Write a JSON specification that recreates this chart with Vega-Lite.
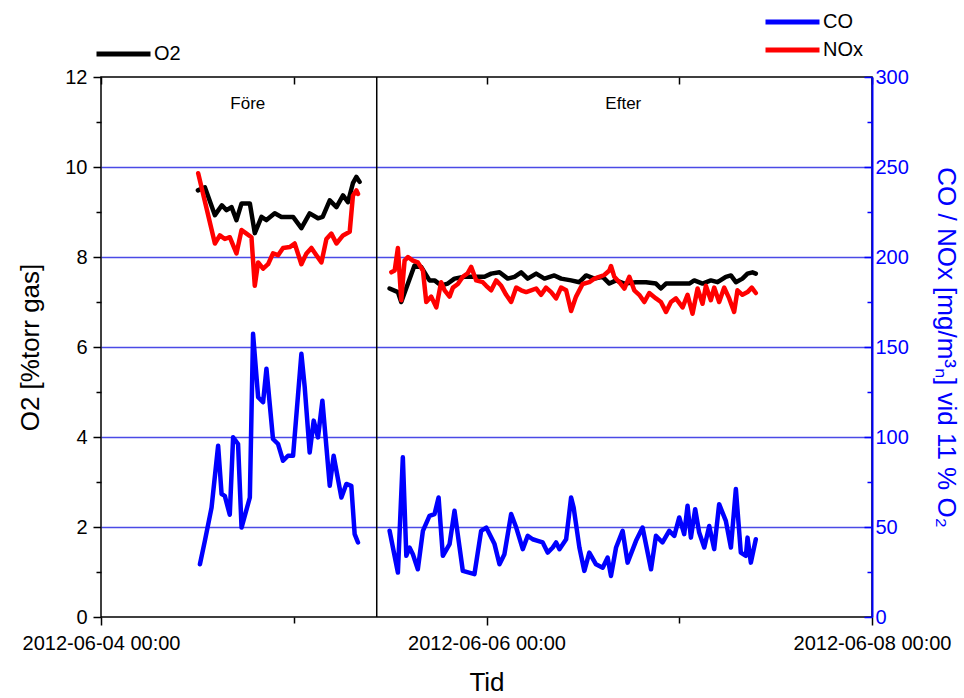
{
  "$schema": "https://vega.github.io/schema/vega-lite/v6.json",
  "width": 771,
  "height": 540,
  "autosize": {"type": "none"},
  "padding": {"left": 101, "top": 77, "right": 92, "bottom": 81},
  "background": "white",
  "config": {
    "font": "Liberation Sans",
    "view": {"stroke": "black", "strokeWidth": 1.5},
    "axis": {
      "labelFont": "Liberation Sans", "titleFont": "Liberation Sans", "titleFontWeight": "normal",
      "grid": false, "labelFontSize": 20, "titleFontSize": 26,
      "domainColor": "black", "tickColor": "black", "labelColor": "black", "titleColor": "black",
      "domainWidth": 1.5, "tickWidth": 1.5
    },
    "legend": {
      "orient": "none", "labelFontSize": 20, "labelFont": "Liberation Sans", "labelColor": "black",
      "symbolStrokeWidth": 5, "symbolType": "M-1.8,0H1.8", "symbolSize": 900,
      "labelOffset": 13, "rowPadding": 0, "padding": 0, "title": null
    }
  },
  "datasets": {
    "o2": [
      {"t":"2012-06-04T12:04","v":9.48,"s":"O2","g":"a"},
      {"t":"2012-06-04T12:56","v":9.55,"s":"O2","g":"a"},
      {"t":"2012-06-04T14:11","v":8.93,"s":"O2","g":"a"},
      {"t":"2012-06-04T15:03","v":9.15,"s":"O2","g":"a"},
      {"t":"2012-06-04T15:38","v":9.04,"s":"O2","g":"a"},
      {"t":"2012-06-04T16:15","v":9.11,"s":"O2","g":"a"},
      {"t":"2012-06-04T16:52","v":8.82,"s":"O2","g":"a"},
      {"t":"2012-06-04T17:30","v":9.19,"s":"O2","g":"a"},
      {"t":"2012-06-04T18:32","v":9.19,"s":"O2","g":"a"},
      {"t":"2012-06-04T19:09","v":8.53,"s":"O2","g":"a"},
      {"t":"2012-06-04T19:59","v":8.89,"s":"O2","g":"a"},
      {"t":"2012-06-04T20:36","v":8.82,"s":"O2","g":"a"},
      {"t":"2012-06-04T21:38","v":8.97,"s":"O2","g":"a"},
      {"t":"2012-06-04T22:28","v":8.89,"s":"O2","g":"a"},
      {"t":"2012-06-04T23:55","v":8.89,"s":"O2","g":"a"},
      {"t":"2012-06-05T00:57","v":8.64,"s":"O2","g":"a"},
      {"t":"2012-06-05T01:59","v":8.97,"s":"O2","g":"a"},
      {"t":"2012-06-05T03:01","v":8.86,"s":"O2","g":"a"},
      {"t":"2012-06-05T03:36","v":8.89,"s":"O2","g":"a"},
      {"t":"2012-06-05T04:29","v":9.26,"s":"O2","g":"a"},
      {"t":"2012-06-05T05:19","v":9.11,"s":"O2","g":"a"},
      {"t":"2012-06-05T06:08","v":9.37,"s":"O2","g":"a"},
      {"t":"2012-06-05T06:45","v":9.22,"s":"O2","g":"a"},
      {"t":"2012-06-05T07:22","v":9.64,"s":"O2","g":"a"},
      {"t":"2012-06-05T07:48","v":9.78,"s":"O2","g":"a"},
      {"t":"2012-06-05T08:12","v":9.67,"s":"O2","g":"a"},
      {"t":"2012-06-05T11:56","v":7.30,"s":"O2","g":"b"},
      {"t":"2012-06-05T12:58","v":7.22,"s":"O2","g":"b"},
      {"t":"2012-06-05T13:23","v":7.00,"s":"O2","g":"b"},
      {"t":"2012-06-05T15:02","v":7.81,"s":"O2","g":"b"},
      {"t":"2012-06-05T15:52","v":7.78,"s":"O2","g":"b"},
      {"t":"2012-06-05T16:54","v":7.48,"s":"O2","g":"b"},
      {"t":"2012-06-05T17:32","v":7.48,"s":"O2","g":"b"},
      {"t":"2012-06-05T18:21","v":7.37,"s":"O2","g":"b"},
      {"t":"2012-06-05T19:11","v":7.41,"s":"O2","g":"b"},
      {"t":"2012-06-05T20:01","v":7.52,"s":"O2","g":"b"},
      {"t":"2012-06-05T21:15","v":7.56,"s":"O2","g":"b"},
      {"t":"2012-06-05T22:30","v":7.56,"s":"O2","g":"b"},
      {"t":"2012-06-05T23:45","v":7.56,"s":"O2","g":"b"},
      {"t":"2012-06-06T00:35","v":7.63,"s":"O2","g":"b"},
      {"t":"2012-06-06T01:37","v":7.66,"s":"O2","g":"b"},
      {"t":"2012-06-06T02:39","v":7.52,"s":"O2","g":"b"},
      {"t":"2012-06-06T03:29","v":7.56,"s":"O2","g":"b"},
      {"t":"2012-06-06T04:19","v":7.66,"s":"O2","g":"b"},
      {"t":"2012-06-06T05:08","v":7.52,"s":"O2","g":"b"},
      {"t":"2012-06-06T06:11","v":7.63,"s":"O2","g":"b"},
      {"t":"2012-06-06T07:13","v":7.52,"s":"O2","g":"b"},
      {"t":"2012-06-06T08:27","v":7.59,"s":"O2","g":"b"},
      {"t":"2012-06-06T09:17","v":7.52,"s":"O2","g":"b"},
      {"t":"2012-06-06T10:32","v":7.48,"s":"O2","g":"b"},
      {"t":"2012-06-06T11:34","v":7.44,"s":"O2","g":"b"},
      {"t":"2012-06-06T12:24","v":7.59,"s":"O2","g":"b"},
      {"t":"2012-06-06T13:26","v":7.52,"s":"O2","g":"b"},
      {"t":"2012-06-06T14:28","v":7.56,"s":"O2","g":"b"},
      {"t":"2012-06-06T15:18","v":7.41,"s":"O2","g":"b"},
      {"t":"2012-06-06T16:08","v":7.48,"s":"O2","g":"b"},
      {"t":"2012-06-06T17:10","v":7.41,"s":"O2","g":"b"},
      {"t":"2012-06-06T18:37","v":7.44,"s":"O2","g":"b"},
      {"t":"2012-06-06T19:52","v":7.44,"s":"O2","g":"b"},
      {"t":"2012-06-06T21:06","v":7.41,"s":"O2","g":"b"},
      {"t":"2012-06-06T21:43","v":7.30,"s":"O2","g":"b"},
      {"t":"2012-06-06T22:21","v":7.41,"s":"O2","g":"b"},
      {"t":"2012-06-07T01:15","v":7.41,"s":"O2","g":"b"},
      {"t":"2012-06-07T01:52","v":7.48,"s":"O2","g":"b"},
      {"t":"2012-06-07T02:54","v":7.41,"s":"O2","g":"b"},
      {"t":"2012-06-07T03:56","v":7.48,"s":"O2","g":"b"},
      {"t":"2012-06-07T04:46","v":7.44,"s":"O2","g":"b"},
      {"t":"2012-06-07T05:48","v":7.56,"s":"O2","g":"b"},
      {"t":"2012-06-07T06:26","v":7.59,"s":"O2","g":"b"},
      {"t":"2012-06-07T07:03","v":7.44,"s":"O2","g":"b"},
      {"t":"2012-06-07T07:52","v":7.52,"s":"O2","g":"b"},
      {"t":"2012-06-07T08:30","v":7.63,"s":"O2","g":"b"},
      {"t":"2012-06-07T09:07","v":7.66,"s":"O2","g":"b"},
      {"t":"2012-06-07T09:32","v":7.63,"s":"O2","g":"b"}
    ],
    "conox": [
      {"t":"2012-06-04T12:19","v":29.3,"s":"CO","g":"a"},
      {"t":"2012-06-04T12:56","v":42.3,"s":"CO","g":"a"},
      {"t":"2012-06-04T13:46","v":60.8,"s":"CO","g":"a"},
      {"t":"2012-06-04T14:35","v":95.2,"s":"CO","g":"a"},
      {"t":"2012-06-04T15:01","v":68.3,"s":"CO","g":"a"},
      {"t":"2012-06-04T15:25","v":67.3,"s":"CO","g":"a"},
      {"t":"2012-06-04T16:02","v":56.8,"s":"CO","g":"a"},
      {"t":"2012-06-04T16:27","v":99.8,"s":"CO","g":"a"},
      {"t":"2012-06-04T17:04","v":96.1,"s":"CO","g":"a"},
      {"t":"2012-06-04T17:30","v":49.7,"s":"CO","g":"a"},
      {"t":"2012-06-04T18:32","v":66.4,"s":"CO","g":"a"},
      {"t":"2012-06-04T18:56","v":157.3,"s":"CO","g":"a"},
      {"t":"2012-06-04T19:34","v":122.1,"s":"CO","g":"a"},
      {"t":"2012-06-04T20:11","v":119.3,"s":"CO","g":"a"},
      {"t":"2012-06-04T20:36","v":137.9,"s":"CO","g":"a"},
      {"t":"2012-06-04T21:25","v":98.9,"s":"CO","g":"a"},
      {"t":"2012-06-04T22:03","v":96.1,"s":"CO","g":"a"},
      {"t":"2012-06-04T22:40","v":86.8,"s":"CO","g":"a"},
      {"t":"2012-06-04T23:17","v":89.6,"s":"CO","g":"a"},
      {"t":"2012-06-04T23:55","v":89.6,"s":"CO","g":"a"},
      {"t":"2012-06-05T00:57","v":146.2,"s":"CO","g":"a"},
      {"t":"2012-06-05T01:22","v":127.6,"s":"CO","g":"a"},
      {"t":"2012-06-05T01:59","v":91.4,"s":"CO","g":"a"},
      {"t":"2012-06-05T02:29","v":109.1,"s":"CO","g":"a"},
      {"t":"2012-06-05T03:01","v":99.8,"s":"CO","g":"a"},
      {"t":"2012-06-05T03:34","v":120.2,"s":"CO","g":"a"},
      {"t":"2012-06-05T04:29","v":72.9,"s":"CO","g":"a"},
      {"t":"2012-06-05T04:58","v":89.6,"s":"CO","g":"a"},
      {"t":"2012-06-05T05:56","v":66.4,"s":"CO","g":"a"},
      {"t":"2012-06-05T06:33","v":73.9,"s":"CO","g":"a"},
      {"t":"2012-06-05T07:10","v":72.9,"s":"CO","g":"a"},
      {"t":"2012-06-05T07:35","v":46.0,"s":"CO","g":"a"},
      {"t":"2012-06-05T08:00","v":41.4,"s":"CO","g":"a"},
      {"t":"2012-06-05T11:56","v":47.9,"s":"CO","g":"b"},
      {"t":"2012-06-05T12:58","v":24.7,"s":"CO","g":"b"},
      {"t":"2012-06-05T13:35","v":88.7,"s":"CO","g":"b"},
      {"t":"2012-06-05T14:01","v":34.0,"s":"CO","g":"b"},
      {"t":"2012-06-05T14:25","v":38.6,"s":"CO","g":"b"},
      {"t":"2012-06-05T14:50","v":34.9,"s":"CO","g":"b"},
      {"t":"2012-06-05T15:27","v":26.5,"s":"CO","g":"b"},
      {"t":"2012-06-05T16:05","v":47.9,"s":"CO","g":"b"},
      {"t":"2012-06-05T16:54","v":56.2,"s":"CO","g":"b"},
      {"t":"2012-06-05T17:32","v":57.2,"s":"CO","g":"b"},
      {"t":"2012-06-05T18:02","v":66.4,"s":"CO","g":"b"},
      {"t":"2012-06-05T18:34","v":34.0,"s":"CO","g":"b"},
      {"t":"2012-06-05T19:24","v":40.5,"s":"CO","g":"b"},
      {"t":"2012-06-05T20:01","v":59.0,"s":"CO","g":"b"},
      {"t":"2012-06-05T21:03","v":25.6,"s":"CO","g":"b"},
      {"t":"2012-06-05T22:30","v":23.8,"s":"CO","g":"b"},
      {"t":"2012-06-05T23:20","v":47.9,"s":"CO","g":"b"},
      {"t":"2012-06-05T23:58","v":49.7,"s":"CO","g":"b"},
      {"t":"2012-06-06T01:00","v":40.5,"s":"CO","g":"b"},
      {"t":"2012-06-06T01:37","v":29.3,"s":"CO","g":"b"},
      {"t":"2012-06-06T02:14","v":34.9,"s":"CO","g":"b"},
      {"t":"2012-06-06T03:04","v":57.2,"s":"CO","g":"b"},
      {"t":"2012-06-06T03:42","v":49.7,"s":"CO","g":"b"},
      {"t":"2012-06-06T04:31","v":37.7,"s":"CO","g":"b"},
      {"t":"2012-06-06T05:08","v":45.1,"s":"CO","g":"b"},
      {"t":"2012-06-06T05:45","v":43.2,"s":"CO","g":"b"},
      {"t":"2012-06-06T06:23","v":42.3,"s":"CO","g":"b"},
      {"t":"2012-06-06T07:00","v":41.4,"s":"CO","g":"b"},
      {"t":"2012-06-06T07:37","v":35.8,"s":"CO","g":"b"},
      {"t":"2012-06-06T08:15","v":38.6,"s":"CO","g":"b"},
      {"t":"2012-06-06T08:40","v":41.4,"s":"CO","g":"b"},
      {"t":"2012-06-06T09:05","v":37.7,"s":"CO","g":"b"},
      {"t":"2012-06-06T09:55","v":43.2,"s":"CO","g":"b"},
      {"t":"2012-06-06T10:32","v":66.4,"s":"CO","g":"b"},
      {"t":"2012-06-06T10:51","v":60.8,"s":"CO","g":"b"},
      {"t":"2012-06-06T11:34","v":38.6,"s":"CO","g":"b"},
      {"t":"2012-06-06T12:11","v":25.6,"s":"CO","g":"b"},
      {"t":"2012-06-06T12:48","v":35.8,"s":"CO","g":"b"},
      {"t":"2012-06-06T13:38","v":29.3,"s":"CO","g":"b"},
      {"t":"2012-06-06T14:28","v":27.4,"s":"CO","g":"b"},
      {"t":"2012-06-06T15:05","v":33.0,"s":"CO","g":"b"},
      {"t":"2012-06-06T15:30","v":22.8,"s":"CO","g":"b"},
      {"t":"2012-06-06T16:08","v":38.6,"s":"CO","g":"b"},
      {"t":"2012-06-06T16:57","v":47.9,"s":"CO","g":"b"},
      {"t":"2012-06-06T17:34","v":30.2,"s":"CO","g":"b"},
      {"t":"2012-06-06T18:37","v":42.3,"s":"CO","g":"b"},
      {"t":"2012-06-06T19:26","v":49.7,"s":"CO","g":"b"},
      {"t":"2012-06-06T20:29","v":26.5,"s":"CO","g":"b"},
      {"t":"2012-06-06T21:06","v":45.1,"s":"CO","g":"b"},
      {"t":"2012-06-06T21:55","v":41.4,"s":"CO","g":"b"},
      {"t":"2012-06-06T22:45","v":47.9,"s":"CO","g":"b"},
      {"t":"2012-06-06T23:23","v":45.1,"s":"CO","g":"b"},
      {"t":"2012-06-07T00:00","v":55.3,"s":"CO","g":"b"},
      {"t":"2012-06-07T00:37","v":46.0,"s":"CO","g":"b"},
      {"t":"2012-06-07T01:02","v":61.8,"s":"CO","g":"b"},
      {"t":"2012-06-07T01:27","v":44.1,"s":"CO","g":"b"},
      {"t":"2012-06-07T01:59","v":59.9,"s":"CO","g":"b"},
      {"t":"2012-06-07T02:29","v":46.9,"s":"CO","g":"b"},
      {"t":"2012-06-07T03:07","v":38.6,"s":"CO","g":"b"},
      {"t":"2012-06-07T03:44","v":50.6,"s":"CO","g":"b"},
      {"t":"2012-06-07T04:21","v":37.7,"s":"CO","g":"b"},
      {"t":"2012-06-07T04:58","v":62.7,"s":"CO","g":"b"},
      {"t":"2012-06-07T05:48","v":53.4,"s":"CO","g":"b"},
      {"t":"2012-06-07T06:26","v":38.6,"s":"CO","g":"b"},
      {"t":"2012-06-07T07:03","v":71.1,"s":"CO","g":"b"},
      {"t":"2012-06-07T07:40","v":35.8,"s":"CO","g":"b"},
      {"t":"2012-06-07T08:18","v":34.0,"s":"CO","g":"b"},
      {"t":"2012-06-07T08:30","v":44.1,"s":"CO","g":"b"},
      {"t":"2012-06-07T08:55","v":30.2,"s":"CO","g":"b"},
      {"t":"2012-06-07T09:32","v":43.2,"s":"CO","g":"b"},
      {"t":"2012-06-04T12:06","v":246.5,"s":"NOx","g":"a"},
      {"t":"2012-06-04T14:11","v":207.5,"s":"NOx","g":"a"},
      {"t":"2012-06-04T14:48","v":212,"s":"NOx","g":"a"},
      {"t":"2012-06-04T15:25","v":210,"s":"NOx","g":"a"},
      {"t":"2012-06-04T16:02","v":211,"s":"NOx","g":"a"},
      {"t":"2012-06-04T16:52","v":202,"s":"NOx","g":"a"},
      {"t":"2012-06-04T17:30","v":215,"s":"NOx","g":"a"},
      {"t":"2012-06-04T18:07","v":213,"s":"NOx","g":"a"},
      {"t":"2012-06-04T18:44","v":211,"s":"NOx","g":"a"},
      {"t":"2012-06-04T19:09","v":184,"s":"NOx","g":"a"},
      {"t":"2012-06-04T19:34","v":197,"s":"NOx","g":"a"},
      {"t":"2012-06-04T20:11","v":193.5,"s":"NOx","g":"a"},
      {"t":"2012-06-04T20:48","v":196,"s":"NOx","g":"a"},
      {"t":"2012-06-04T21:25","v":202,"s":"NOx","g":"a"},
      {"t":"2012-06-04T22:03","v":201,"s":"NOx","g":"a"},
      {"t":"2012-06-04T22:40","v":205,"s":"NOx","g":"a"},
      {"t":"2012-06-04T23:30","v":205.5,"s":"NOx","g":"a"},
      {"t":"2012-06-05T00:07","v":207.5,"s":"NOx","g":"a"},
      {"t":"2012-06-05T00:57","v":196,"s":"NOx","g":"a"},
      {"t":"2012-06-05T01:35","v":202,"s":"NOx","g":"a"},
      {"t":"2012-06-05T02:12","v":205,"s":"NOx","g":"a"},
      {"t":"2012-06-05T02:49","v":201,"s":"NOx","g":"a"},
      {"t":"2012-06-05T03:27","v":197,"s":"NOx","g":"a"},
      {"t":"2012-06-05T04:04","v":210,"s":"NOx","g":"a"},
      {"t":"2012-06-05T04:41","v":213,"s":"NOx","g":"a"},
      {"t":"2012-06-05T05:19","v":207.5,"s":"NOx","g":"a"},
      {"t":"2012-06-05T06:08","v":212,"s":"NOx","g":"a"},
      {"t":"2012-06-05T06:58","v":214,"s":"NOx","g":"a"},
      {"t":"2012-06-05T07:22","v":234,"s":"NOx","g":"a"},
      {"t":"2012-06-05T07:48","v":237,"s":"NOx","g":"a"},
      {"t":"2012-06-05T08:00","v":235,"s":"NOx","g":"a"},
      {"t":"2012-06-05T12:09","v":191.5,"s":"NOx","g":"b"},
      {"t":"2012-06-05T12:34","v":192.5,"s":"NOx","g":"b"},
      {"t":"2012-06-05T12:58","v":205,"s":"NOx","g":"b"},
      {"t":"2012-06-05T13:23","v":176,"s":"NOx","g":"b"},
      {"t":"2012-06-05T13:48","v":198,"s":"NOx","g":"b"},
      {"t":"2012-06-05T14:13","v":200,"s":"NOx","g":"b"},
      {"t":"2012-06-05T14:50","v":198,"s":"NOx","g":"b"},
      {"t":"2012-06-05T15:27","v":197,"s":"NOx","g":"b"},
      {"t":"2012-06-05T16:05","v":192.5,"s":"NOx","g":"b"},
      {"t":"2012-06-05T16:30","v":175,"s":"NOx","g":"b"},
      {"t":"2012-06-05T17:07","v":178,"s":"NOx","g":"b"},
      {"t":"2012-06-05T17:45","v":172,"s":"NOx","g":"b"},
      {"t":"2012-06-05T18:21","v":186,"s":"NOx","g":"b"},
      {"t":"2012-06-05T18:47","v":181.5,"s":"NOx","g":"b"},
      {"t":"2012-06-05T19:24","v":178,"s":"NOx","g":"b"},
      {"t":"2012-06-05T19:49","v":183,"s":"NOx","g":"b"},
      {"t":"2012-06-05T20:26","v":185,"s":"NOx","g":"b"},
      {"t":"2012-06-05T21:03","v":189,"s":"NOx","g":"b"},
      {"t":"2012-06-05T21:40","v":191,"s":"NOx","g":"b"},
      {"t":"2012-06-05T22:06","v":194.5,"s":"NOx","g":"b"},
      {"t":"2012-06-05T22:43","v":187,"s":"NOx","g":"b"},
      {"t":"2012-06-05T23:32","v":186,"s":"NOx","g":"b"},
      {"t":"2012-06-05T23:58","v":184,"s":"NOx","g":"b"},
      {"t":"2012-06-06T00:35","v":181.5,"s":"NOx","g":"b"},
      {"t":"2012-06-06T01:12","v":187,"s":"NOx","g":"b"},
      {"t":"2012-06-06T01:50","v":184,"s":"NOx","g":"b"},
      {"t":"2012-06-06T02:27","v":179,"s":"NOx","g":"b"},
      {"t":"2012-06-06T03:04","v":175,"s":"NOx","g":"b"},
      {"t":"2012-06-06T03:42","v":183,"s":"NOx","g":"b"},
      {"t":"2012-06-06T04:19","v":181.5,"s":"NOx","g":"b"},
      {"t":"2012-06-06T04:56","v":180.5,"s":"NOx","g":"b"},
      {"t":"2012-06-06T05:33","v":181.5,"s":"NOx","g":"b"},
      {"t":"2012-06-06T06:11","v":182.5,"s":"NOx","g":"b"},
      {"t":"2012-06-06T06:48","v":179,"s":"NOx","g":"b"},
      {"t":"2012-06-06T07:25","v":183,"s":"NOx","g":"b"},
      {"t":"2012-06-06T08:03","v":180.5,"s":"NOx","g":"b"},
      {"t":"2012-06-06T08:40","v":177,"s":"NOx","g":"b"},
      {"t":"2012-06-06T09:17","v":183,"s":"NOx","g":"b"},
      {"t":"2012-06-06T09:55","v":181.5,"s":"NOx","g":"b"},
      {"t":"2012-06-06T10:32","v":170,"s":"NOx","g":"b"},
      {"t":"2012-06-06T11:09","v":178,"s":"NOx","g":"b"},
      {"t":"2012-06-06T11:58","v":185,"s":"NOx","g":"b"},
      {"t":"2012-06-06T12:48","v":186,"s":"NOx","g":"b"},
      {"t":"2012-06-06T13:26","v":188,"s":"NOx","g":"b"},
      {"t":"2012-06-06T14:03","v":189,"s":"NOx","g":"b"},
      {"t":"2012-06-06T14:40","v":190,"s":"NOx","g":"b"},
      {"t":"2012-06-06T15:18","v":192.5,"s":"NOx","g":"b"},
      {"t":"2012-06-06T15:30","v":195,"s":"NOx","g":"b"},
      {"t":"2012-06-06T15:55","v":189,"s":"NOx","g":"b"},
      {"t":"2012-06-06T16:32","v":186,"s":"NOx","g":"b"},
      {"t":"2012-06-06T17:10","v":182.5,"s":"NOx","g":"b"},
      {"t":"2012-06-06T17:47","v":189,"s":"NOx","g":"b"},
      {"t":"2012-06-06T18:24","v":181.5,"s":"NOx","g":"b"},
      {"t":"2012-06-06T19:01","v":179,"s":"NOx","g":"b"},
      {"t":"2012-06-06T19:39","v":175,"s":"NOx","g":"b"},
      {"t":"2012-06-06T20:16","v":180,"s":"NOx","g":"b"},
      {"t":"2012-06-06T21:06","v":177,"s":"NOx","g":"b"},
      {"t":"2012-06-06T21:43","v":175,"s":"NOx","g":"b"},
      {"t":"2012-06-06T22:21","v":169.5,"s":"NOx","g":"b"},
      {"t":"2012-06-06T22:58","v":175,"s":"NOx","g":"b"},
      {"t":"2012-06-06T23:35","v":177,"s":"NOx","g":"b"},
      {"t":"2012-06-07T00:25","v":172,"s":"NOx","g":"b"},
      {"t":"2012-06-07T01:02","v":179,"s":"NOx","g":"b"},
      {"t":"2012-06-07T01:39","v":168.5,"s":"NOx","g":"b"},
      {"t":"2012-06-07T02:17","v":182.5,"s":"NOx","g":"b"},
      {"t":"2012-06-07T02:54","v":174,"s":"NOx","g":"b"},
      {"t":"2012-06-07T03:19","v":184,"s":"NOx","g":"b"},
      {"t":"2012-06-07T03:56","v":176,"s":"NOx","g":"b"},
      {"t":"2012-06-07T04:21","v":183,"s":"NOx","g":"b"},
      {"t":"2012-06-07T04:58","v":175,"s":"NOx","g":"b"},
      {"t":"2012-06-07T05:36","v":183,"s":"NOx","g":"b"},
      {"t":"2012-06-07T06:13","v":177,"s":"NOx","g":"b"},
      {"t":"2012-06-07T06:50","v":169.5,"s":"NOx","g":"b"},
      {"t":"2012-06-07T07:15","v":181.5,"s":"NOx","g":"b"},
      {"t":"2012-06-07T07:52","v":179,"s":"NOx","g":"b"},
      {"t":"2012-06-07T08:30","v":180.5,"s":"NOx","g":"b"},
      {"t":"2012-06-07T09:02","v":183,"s":"NOx","g":"b"},
      {"t":"2012-06-07T09:32","v":180,"s":"NOx","g":"b"}
    ],
    "divider": [{"t":"2012-06-05T10:20"}],
    "labels": [
      {"t":"2012-06-04T18:17","v":11.4,"label":"Före"},
      {"t":"2012-06-06T17:02","v":11.4,"label":"Efter"}
    ]
  },
  "resolve": {
    "scale": {"y": "independent", "color": "independent"},
    "axis": {"x": "independent", "y": "independent"}
  },
  "layer": [
    {
      "data": {"name": "o2"},
      "mark": {"type": "line", "opacity": 0},
      "encoding": {
        "x": {"field": "t", "type": "temporal",
              "scale": {"domain": [{"year":2012,"month":6,"date":4},{"year":2012,"month":6,"date":8}]},
              "axis": null},
        "y": {"field": "v", "type": "quantitative", "scale": {"domain": [0, 12], "nice": false},
              "axis": {"orient": "left", "values": [2,4,6,8,10], "grid": true, "gridColor": "#4a4ae6", "gridWidth": 1.6, "gridOpacity": 1,
                       "ticks": false, "labels": false, "domain": false, "title": null}}
      }
    },
    {
      "data": {"name": "divider"},
      "mark": {"type": "rule", "color": "black", "strokeWidth": 1.5},
      "encoding": {
        "x": {"field": "t", "type": "temporal", "axis": null}
      }
    },
    {
      "data": {"name": "o2"},
      "mark": {"type": "line", "opacity": 0},
      "encoding": {
        "x": {"field": "t", "type": "temporal",
              "axis": {"orient": "bottom", "values": [{"year":2012,"month":6,"date":5},{"year":2012,"month":6,"date":7}],
                       "grid": false, "labels": false, "domain": false, "tickSize": 6, "title": null}},
        "y": {"field": "v", "type": "quantitative", "scale": {"domain": [0, 12], "nice": false},
              "axis": {"orient": "left", "values": [1,3,5,7,9,11], "grid": false, "labels": false, "domain": false, "tickSize": 5, "title": null}}
      }
    },
    {
      "data": {"name": "conox"},
      "mark": {"type": "line", "opacity": 0},
      "encoding": {
        "x": {"field": "t", "type": "temporal",
              "axis": {"orient": "top", "values": [{"year":2012,"month":6,"date":4},{"year":2012,"month":6,"date":5},{"year":2012,"month":6,"date":6},{"year":2012,"month":6,"date":7},{"year":2012,"month":6,"date":8}],
                       "grid": false, "labels": false, "domain": false, "tickSize": -7, "title": null}},
        "y": {"field": "v", "type": "quantitative", "scale": {"domain": [0, 300], "nice": false},
              "axis": {"orient": "right", "values": [25,75,125,175,225,275], "grid": false, "labels": false, "domain": false, "tickSize": -5,
                       "tickColor": "blue", "title": null}}
      }
    },
    {
      "data": {"name": "o2"},
      "mark": {"type": "line", "strokeWidth": 4.5, "strokeJoin": "round", "strokeCap": "round"},
      "encoding": {
        "x": {"field": "t", "type": "temporal",
              "axis": {"orient": "bottom", "values": [{"year":2012,"month":6,"date":4},{"year":2012,"month":6,"date":6},{"year":2012,"month":6,"date":8}],
                       "grid": false, "format": "%Y-%m-%d %H:%M", "tickSize": 8, "labelPadding": 8, "labelFlush": false, "labelOverlap": false,
                       "domain": false, "title": "Tid", "titlePadding": 16, "titleFontSize": 26}},
        "y": {"field": "v", "type": "quantitative", "scale": {"domain": [0, 12], "nice": false},
              "axis": {"orient": "left", "values": [0,2,4,6,8,10,12], "grid": false, "tickSize": 8, "labelPadding": 6, "domain": false,
                       "title": "O2 [%torr gas]", "titlePadding": 21}},
        "color": {"field": "s", "type": "nominal", "scale": {"domain": ["O2"], "range": ["#000000"]},
                  "legend": {"legendX": 5, "legendY": -40.5}},
        "detail": {"field": "g"}
      }
    },
    {
      "data": {"name": "conox"},
      "mark": {"type": "line", "strokeWidth": 4.5, "strokeJoin": "round", "strokeCap": "round"},
      "encoding": {
        "x": {"field": "t", "type": "temporal", "axis": null},
        "y": {"field": "v", "type": "quantitative", "scale": {"domain": [0, 300], "nice": false},
              "axis": {"orient": "right", "values": [0,50,100,150,200,250,300], "grid": false, "tickSize": -8, "labelPadding": 11,
                       "domainColor": "#0000ff", "domainWidth": 2, "tickColor": "#0000ff", "labelColor": "#0000ff",
                       "titleColor": "#0000ff", "title": "CO / NOx [mg/m³ₙ] vid 11 % O₂", "titlePadding": 24, "titleFontSize": 26}},
        "color": {"field": "s", "type": "nominal", "scale": {"domain": ["CO", "NOx"], "range": ["#0000ff", "#ff0000"]},
                  "legend": {"legendX": 674, "legendY": -72.5}},
        "detail": {"field": "g"}
      }
    },
    {
      "data": {"name": "labels"},
      "mark": {"type": "text", "fontSize": 17, "font": "Liberation Sans", "color": "black"},
      "encoding": {
        "x": {"field": "t", "type": "temporal", "axis": null},
        "y": {"field": "v", "type": "quantitative", "scale": {"domain": [0, 12], "nice": false}, "axis": null},
        "text": {"field": "label"}
      }
    }
  ]
}
